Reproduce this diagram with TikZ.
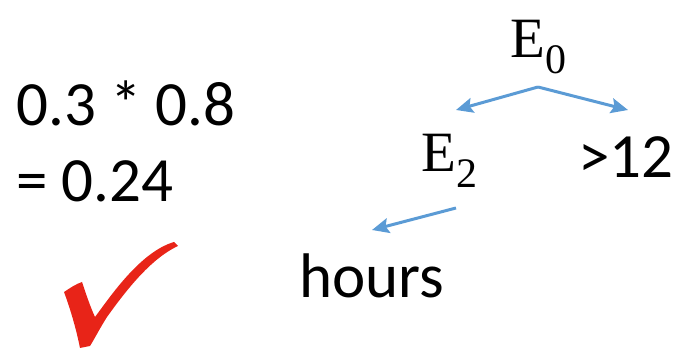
\documentclass[tikz,border=0pt]{standalone}
\usepackage{fontspec}
\setmainfont{Carlito}
\newfontfamily\serifE{Liberation Serif}
\usetikzlibrary{arrows.meta}
\definecolor{arrowblue}{RGB}{91,155,213}
\definecolor{checkred}{RGB}{232,36,24}
\tikzset{
  bigtext/.style={inner sep=0pt, anchor=base west, font=\fontsize{63}{63}\selectfont},
  evar/.style={inner sep=0pt, anchor=base west, font=\serifE\fontsize{57}{57}\selectfont},
  arr/.style={draw=arrowblue, line width=3pt, -{Stealth[length=17pt,width=15pt,inset=3pt]}},
}
\newcommand{\subsc}[1]{\raisebox{-16pt}{\fontsize{42}{42}\selectfont #1}}
\begin{document}
\begin{tikzpicture}[x=1pt,y=1pt]
\useasboundingbox (0,0) rectangle (679,352);
% left text
\node[bigtext] (calc1) at (16,226) {0.3 * 0.8};
\node[bigtext] (calc2) at (16,150) {= 0.24};
% tree labels
\node[evar] (E0) at (510,294) {E\subsc{0}};
\node[evar] (E2) at (421,180) {E\subsc{2}};
\node[bigtext] (gt) at (578,174) {>12};
\node[bigtext] (hours) at (299,54) {hours};
% connectors
\coordinate (apex) at (538,265);
\coordinate (tE2) at (456,242);
\coordinate (tgt) at (628,242);
\coordinate (sE2) at (456,144);
\coordinate (thours) at (372,122);
\draw[arr] (apex) -- (tE2);
\draw[arr] (apex) -- (tgt);
\draw[arr] (sE2) -- (thours);
% check mark
\fill[checkred] (64,60) .. controls (70,64) and (76,68) .. (82,70)
  .. controls (86,58) and (90,46) .. (95,35)
  .. controls (110,55) and (140,100) .. (174,110)
  -- (178,106)
  .. controls (150,93) and (125,60) .. (107,35)
  .. controls (100,24) and (95,14) .. (90,6)
  -- (80,4)
  .. controls (76,24) and (70,44) .. (64,60) -- cycle;
\end{tikzpicture}
\end{document}
